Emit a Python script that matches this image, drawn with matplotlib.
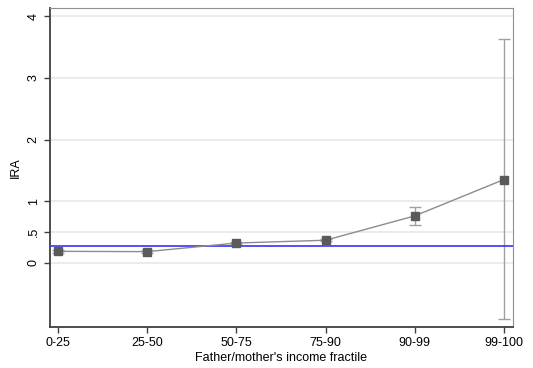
import matplotlib.pyplot as plt
import numpy as np

plt.rcParams['font.family'] = ['Liberation Sans', 'DejaVu Sans']

fractiles = ['0-25', '25-50', '50-75', '75-90', '90-99', '99-100']
ira = [0.185, 0.18, 0.32, 0.365, 0.76, 1.35]
ci_low = [0.165, 0.16, 0.30, 0.345, 0.62, -0.91]
ci_high = [0.205, 0.20, 0.34, 0.385, 0.91, 3.63]
baseline = 0.27
yticks = [0, 0.5, 1, 2, 3, 4]
ytick_labels = ['0', '.5', '1', '2', '3', '4']

x = np.arange(len(fractiles))
ira = np.array(ira)
yerr = [ira - np.array(ci_low), np.array(ci_high) - ira]

fig = plt.figure(figsize=(5.33, 3.68), dpi=100)
ax = fig.add_axes([0.094, 0.112, 0.868, 0.867])

for t in yticks:
    ax.axhline(t, color='#e8e8e8', lw=1.2, zorder=0)

ax.errorbar(x, ira, yerr=yerr, fmt='none', ecolor='#a0a0a0', elinewidth=1,
            capsize=4, capthick=1, zorder=2)
ax.axhline(baseline, color='#3333ff', lw=1.2, zorder=3)
ax.plot(x, ira, color='#8c8c8c', lw=1, zorder=4)
ax.plot(x, ira, 's', color='#5a5a5a', ms=6, zorder=5)

ax.set_xlim(-0.09, 5.1)
ax.set_ylim(-1.04, 4.14)
ax.set_xticks(x)
ax.set_xticklabels(fractiles, fontsize=9)
ax.set_yticks(yticks)
ax.set_yticklabels(ytick_labels, fontsize=9, rotation=90, va='center')
ax.set_xlabel("Father/mother's income fractile", fontsize=9, labelpad=2)
ax.set_ylabel('IRA', fontsize=9, labelpad=4)

for s in ['left', 'bottom']:
    ax.spines[s].set_color('#404040')
    ax.spines[s].set_linewidth(1.3)
for s in ['top', 'right']:
    ax.spines[s].set_color('#909090')
    ax.spines[s].set_linewidth(0.8)
ax.tick_params(colors='#404040', labelcolor='black', length=4, width=1)

fig.savefig('out.png', dpi=100)
